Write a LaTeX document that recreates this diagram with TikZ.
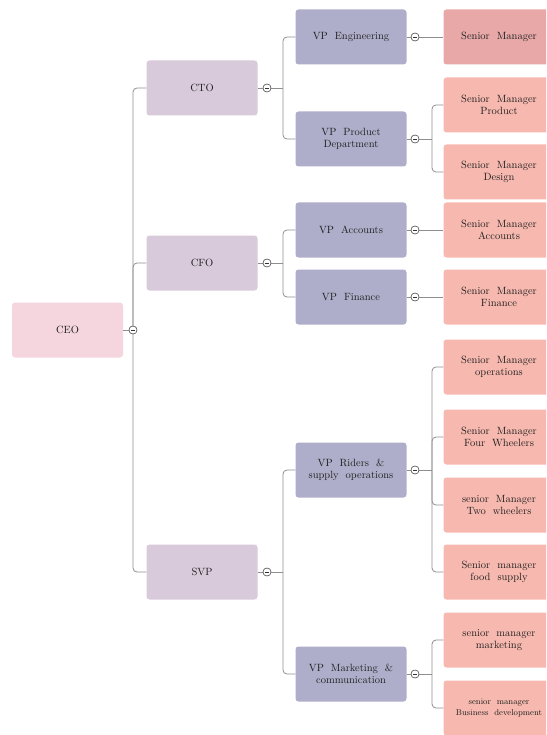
\documentclass[tikz,border=0pt]{standalone}
\usepackage{tikz}
\usetikzlibrary{positioning,calc}
\definecolor{ceofill}{HTML}{F5D6DF}
\definecolor{cxofill}{HTML}{D9CADB}
\definecolor{vpfill}{HTML}{AFAECA}
\definecolor{smfill}{HTML}{F7B9AF}
\definecolor{smdark}{HTML}{E8A8A8}
\definecolor{linegray}{HTML}{8E8E8E}

\begin{document}
\begin{tikzpicture}[x=1pt, y=-1pt,
  every node/.style={font=\fontsize{10.5}{12.5}\selectfont, text=black!88},
  box/.style={rounded corners=3pt, minimum width=111pt, minimum height=55pt, align=center, inner sep=2pt},
  ceobox/.style={box, fill=ceofill},
  cxobox/.style={box, fill=cxofill},
  vpbox/.style={box, fill=vpfill},
  smbox/.style={box, fill=smfill},
  tog/.style={circle, draw=black!80, fill=white, inner sep=0pt, minimum size=8pt,
    path picture={\draw[black!80] ([xshift=-2pt]path picture bounding box.center) -- ([xshift=2pt]path picture bounding box.center);}},
  conn/.style={draw=linegray, line width=0.8pt, rounded corners=4pt}]
  \useasboundingbox (0,0) rectangle (546,735);
  \clip (0,0) rectangle (546,735);
  % root
  \node[ceobox] (ceo) at (67.5,330) {CEO};
  % chiefs
  \node[cxobox] (cto) at (202,88) {CTO};
  \node[cxobox] (cfo) at (202,263) {CFO};
  \node[cxobox] (svp) at (202,572) {SVP};
  % vice presidents
  \node[vpbox] (vpeng) at (351,37) {VP\ \ Engineering};
  \node[vpbox] (vpprod) at (351,139) {VP\ \ Product\\Department};
  \node[vpbox] (vpacc) at (351,230) {VP\ \ Accounts};
  \node[vpbox] (vpfin) at (351,297) {VP\ \ Finance};
  \node[vpbox] (vprid) at (351,470) {VP\ \ Riders\ \ \&\\supply\ \ operations};
  \node[vpbox] (vpmkt) at (351,674) {VP\ \ Marketing\ \ \&\\communication};
  % senior managers
  \node[box, fill=smdark] (smeng) at (499,37) {Senior\ \ Manager};
  \node[smbox] (smprod) at (499,105) {Senior\ \ Manager\\Product};
  \node[smbox] (smdes) at (499,172) {Senior\ \ Manager\\Design};
  \node[smbox] (smacc) at (499,230) {Senior\ \ Manager\\Accounts};
  \node[smbox] (smfin) at (499,297) {Senior\ \ Manager\\Finance};
  \node[smbox] (smops) at (499,367) {Senior\ \ Manager\\operations};
  \node[smbox] (smfour) at (499,437) {Senior\ \ Manager\\Four\ \ Wheelers};
  \node[smbox] (smtwo) at (499,505) {senior\ \ Manager\\Two\ \ wheelers};
  \node[smbox] (smfood) at (499,572) {Senior\ \ manager\\food\ \ supply};
  \node[smbox] (smmkt) at (499,640) {senior\ \ manager\\marketing};
  \node[smbox, font=\fontsize{8.5}{10.5}\selectfont] (smbiz) at (499,708) {senior\ \ manager\\Business\ \ development};
  % toggles and junctions
  \node[tog] (ceo-c) at (133,330) {};
  \foreach \n/\y in {cto/88, cfo/263, svp/572} {
    \node[tog] (\n-c) at (267,\y) {};
    \coordinate (\n-j) at (283,\y);
  }
  \foreach \n/\y in {vpeng/37, vpprod/139, vpacc/230, vpfin/297, vprid/470, vpmkt/674} {
    \node[tog] (\n-c) at (415,\y) {};
    \coordinate (\n-j) at (432,\y);
  }
  % connectors
  \draw[conn] (ceo) -- (ceo-c);
  \draw[conn] (ceo-c.north) |- (cto.west);
  \draw[conn] (ceo-c.north) |- (cfo.west);
  \draw[conn] (ceo-c.south) |- (svp.west);
  \foreach \n in {cto, cfo, svp, vpprod, vprid, vpmkt}
    \draw[conn] (\n) -- (\n-c) -- (\n-j);
  \foreach \p/\c in {cto/vpeng, cto/vpprod, cfo/vpacc, cfo/vpfin, svp/vprid, svp/vpmkt,
      vpprod/smprod, vpprod/smdes, vprid/smops, vprid/smfour, vprid/smtwo, vprid/smfood,
      vpmkt/smmkt, vpmkt/smbiz}
    \draw[conn] (\p-j) |- (\c.west);
  % single children: straight
  \foreach \p/\c in {vpeng/smeng, vpacc/smacc, vpfin/smfin}
    \draw[conn] (\p) -- (\p-c) -- (\c);
  \foreach \n in {ceo, cto, cfo, svp, vpeng, vpprod, vpacc, vpfin, vprid, vpmkt}
    \node[tog] at (\n-c) {};
\end{tikzpicture}
\end{document}
